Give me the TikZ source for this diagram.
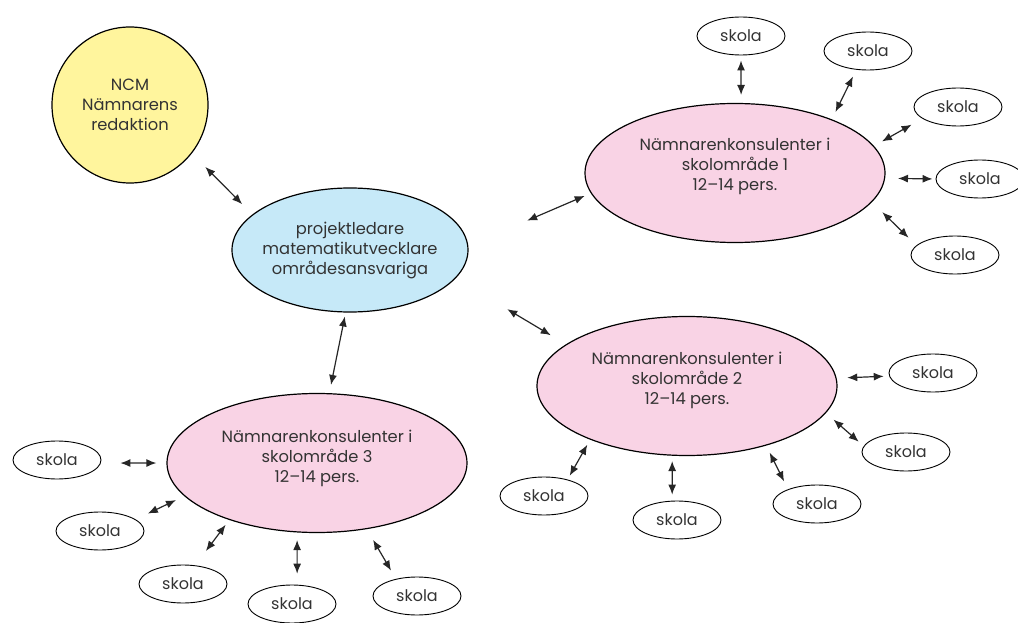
\documentclass[tikz,border=0pt]{standalone}
\usepackage{fontspec}
\setmainfont{Poppins}
\usetikzlibrary{shapes.geometric,arrows.meta}
\definecolor{ncmyellow}{HTML}{FFF59D}
\definecolor{bluefill}{HTML}{C6E9F8}
\definecolor{pinkfill}{HTML}{F9D3E5}
\definecolor{txt}{HTML}{333333}
\begin{document}
\begin{tikzpicture}[x=1pt,y=-1pt,
  lbl/.style={align=center, text=txt, font=\fontsize{16.3}{20}\selectfont},
  bigell/.style={ellipse, draw, line width=1.2pt, inner sep=0pt},
  konsul/.style={bigell, fill=pinkfill, minimum width=300pt, minimum height=139pt},
  skola/.style={ellipse, draw, line width=0.9pt, minimum width=88pt, minimum height=38pt,
    inner sep=0pt, text=txt, font=\fontsize{16}{18}\selectfont},
  conn/.style={{Latex[length=10pt,width=8pt]}-{Latex[length=10pt,width=8pt]}, line width=1.2pt, black!85}]
\useasboundingbox (0,0) rectangle (1018,623);
\clip (0,0) rectangle (1018,623);

% main nodes
\node[circle, draw, line width=1.2pt, fill=ncmyellow, minimum size=156pt, inner sep=0pt, lbl] (ncm) at (130,105) {NCM\\Nämnarens\\redaktion};
\node[bigell, fill=bluefill, minimum width=236pt, minimum height=124pt,
  label={[lbl]center:projektledare\\matematikutvecklare\\områdesansvariga}] (proj) at (350,250) {};
\node[konsul, label={[lbl, yshift=7pt]center:Nämnarenkonsulenter i\\skolområde 1\\12–14 pers.}] (k1) at (735,173) {};
\node[konsul, label={[lbl, yshift=6pt]center:Nämnarenkonsulenter i\\skolområde 2\\12–14 pers.}] (k2) at (687,386) {};
\node[konsul, label={[lbl, yshift=5pt]center:Nämnarenkonsulenter i\\skolområde 3\\12–14 pers.}] (k3) at (317,463) {};

% schools
\node[skola] (s11) at (741,36) {skola};
\node[skola] (s12) at (868,51) {skola};
\node[skola] (s13) at (958,107) {skola};
\node[skola] (s14) at (980,179) {skola};
\node[skola] (s15) at (955,255) {skola};
\node[skola] (s21) at (933,373) {skola};
\node[skola] (s22) at (906,452) {skola};
\node[skola] (s23) at (817,504) {skola};
\node[skola] (s24) at (677,520) {skola};
\node[skola] (s25) at (544,496) {skola};
\node[skola] (s31) at (57,460) {skola};
\node[skola] (s32) at (100,531) {skola};
\node[skola] (s33) at (183,584) {skola};
\node[skola] (s34) at (292,604) {skola};
\node[skola] (s35) at (417,596) {skola};

% connectors
\draw[conn, shorten <=19pt, shorten >=14.5pt] (ncm.-38) -- (proj.160.6);
\draw[conn, shorten <=64pt, shorten >=6.7pt] (proj.2.4) -- (k1.188.6);
\draw[conn, shorten <=60pt, shorten >=17.7pt] (proj.-15.1) -- (k2.161.3);
\draw[conn, shorten <=4pt, shorten >=8.4pt] (proj.-94.2) -- (k3.80.8);

\draw[conn, shorten <=8pt, shorten >=5pt] (k1.85.1) -- (s11.-90);
\draw[conn, shorten <=8.2pt, shorten >=7.5pt] (k1.29.1) -- (s12.-122.4);
\draw[conn, shorten <=9.2pt, shorten >=12.3pt] (k1.11.9) -- (s13.198.2);
\draw[conn, shorten <=12.8pt, shorten >=3pt] (k1.-2.7) -- (s14.180);
\draw[conn, shorten <=14.4pt, shorten >=10.9pt] (k1.-12) -- (s15.166.2);

\draw[conn, shorten <=10.6pt, shorten >=5.4pt] (k2.3.9) -- (s21.184);
\draw[conn, shorten <=10pt, shorten >=6.6pt] (k2.-11.4) -- (s22.172.1);
\draw[conn, shorten <=7.8pt, shorten >=8.7pt] (k2.-37.4) -- (s23.153.7);
\draw[conn, shorten <=5.3pt, shorten >=6.1pt] (k2.-102.3) -- (s24.104.8);
\draw[conn, shorten <=5.8pt, shorten >=4.3pt] (k2.-151.1) -- (s25.35.6);

\draw[conn, shorten <=10pt, shorten >=19.5pt] (k3.180) -- (s31.-4);
\draw[conn, shorten <=9.2pt, shorten >=13.5pt] (k3.194.8) -- (s32.18.8);
\draw[conn, shorten <=6pt, shorten >=17.9pt] (k3.-147.9) -- (s33.57.5);
\draw[conn, shorten <=7.6pt, shorten >=11pt] (k3.-106.1) -- (s34.75.2);
\draw[conn, shorten <=12.4pt, shorten >=9.6pt] (k3.-53.1) -- (s35.141.8);
\end{tikzpicture}
\end{document}
